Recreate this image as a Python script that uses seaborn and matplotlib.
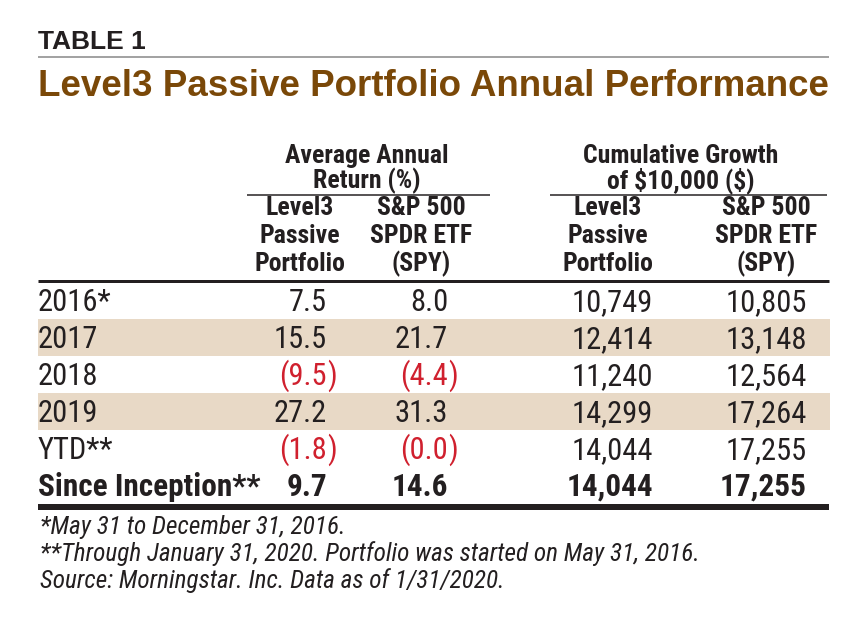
import numpy as np
import pandas as pd
import matplotlib
matplotlib.use("Agg")
import matplotlib.pyplot as plt
from matplotlib import font_manager as fm
import seaborn as sns

# table contents
row_labels = ["2016*", "2017", "2018", "2019", "YTD**", "Since Inception**"]
level3_return = [7.5, 15.5, -9.5, 27.2, -1.8, 9.7]
spy_return = [8.0, 21.7, -4.4, 31.3, -0.0, 14.6]
level3_growth = [10749, 12414, 11240, 14299, 14044, 14044]
spy_growth = [10805, 13148, 12564, 17264, 17255, 17255]

group_headers = [["Average Annual", "Return (%)"], ["Cumulative Growth", "of $10,000 ($)"]]
col_headers = [["Level3", "Passive", "Portfolio"], ["S&P 500", "SPDR ETF", "(SPY)"],
               ["Level3", "Passive", "Portfolio"], ["S&P 500", "SPDR ETF", "(SPY)"]]
footnotes = ["*May 31 to December 31, 2016.",
             "**Through January 31, 2020. Portfolio was started on May 31, 2016.",
             "Source: Morningstar. Inc. Data as of 1/31/2020."]

df = pd.DataFrame({"level3_ret": level3_return, "spy_ret": spy_return,
                   "level3_grw": level3_growth, "spy_grw": spy_growth}, index=row_labels)


def pick_narrow():
    # look for any condensed / narrow face that is installed
    prefer = ["Liberation Sans Narrow", "Roboto Condensed", "Roboto", "Noto Sans",
              "Open Sans", "DejaVu Sans"]
    found = []
    for f in fm.fontManager.ttflist:
        fn = f.fname.lower()
        if "condensed" in fn or "narrow" in fn or f.stretch not in ("normal", 500):
            found.append((f.name, f.stretch))
    for p in prefer:
        for name, st in found:
            if name == p:
                return name, st
    if found:
        return found[0]
    return "DejaVu Sans", "normal"


sns.set_theme(style="white")
narrow_name, narrow_stretch = pick_narrow()
narrow = [narrow_name, "DejaVu Sans"]
wide = ["Liberation Sans", "DejaVu Sans"]
plt.rcParams["font.family"] = narrow
plt.rcParams["font.stretch"] = narrow_stretch

INK = "#231f20"
RED = "#d0202e"
BROWN = "#7a4808"
SHADE = "#e8d9c6"

W, H = 866, 624
fig = plt.figure(figsize=(W / 100, H / 100), dpi=100)
ax = fig.add_axes([0, 0, 1, 1])
ax.set_xlim(0, W)
ax.set_ylim(H, 0)
ax.axis("off")

left, right = 38, 829
px = 72 / 100  # points per pixel

# header block
ax.text(left, 49, "TABLE 1", family=wide, stretch="normal", weight="bold", fontsize=19,
        color=INK, va="baseline")
ax.plot([left, right], [56.5, 56.5], color="#a3a3a3", lw=2 * px, solid_capstyle="butt")
ax.text(left, 96, "Level3 Passive Portfolio Annual Performance", family=wide, stretch="normal",
        weight="bold", fontsize=26.5, color=BROWN, va="baseline")

group_centers = [367, 681]
group_spans = [(247, 490), (550, 827)]
for lines, cx, (x0, x1) in zip(group_headers, group_centers, group_spans):
    for k, line in enumerate(lines):
        ax.text(cx, 163 + 25 * k, line, weight="bold", fontsize=18.5, color=INK,
                ha="center", va="baseline", parse_math=False)
    ax.plot([x0, x1], [194.5, 194.5], color=INK, lw=1.5 * px, solid_capstyle="butt")

col_centers = [300, 421, 608, 766]
col_right = [327, 448, 653, 807]
for lines, cx in zip(col_headers, col_centers):
    for k, line in enumerate(lines):
        ax.text(cx, 215 + 28 * k, line, weight="bold", fontsize=18.5, color=INK,
                ha="center", va="baseline")

ax.plot([left, right], [280.5, 280.5], color=INK, lw=3 * px, solid_capstyle="butt")

# body rows
row_top, row_h = 282, 37
for i, (label, row) in enumerate(df.iterrows()):
    y0 = row_top + row_h * i
    if i % 2 == 1 and i < 4:
        ax.axhspan(y0, y0 + row_h, xmin=left / W, xmax=(right + 1) / W, color=SHADE, lw=0)
    base = y0 + 29
    bold = label.startswith("Since")
    wt = "bold" if bold else "normal"
    fs = 22.5 if bold else 22
    ax.text(left, base, label, fontsize=fs, weight=wt, color=INK, va="baseline")
    cells = [row["level3_ret"], row["spy_ret"], row["level3_grw"], row["spy_grw"]]
    for j, v in enumerate(cells):
        x = col_right[j]
        txt = f"{abs(v):.1f}" if j < 2 else f"{int(v):,}"
        if np.signbit(v):
            ax.text(x, base, "(" + txt, fontsize=fs, weight=wt, color=RED, ha="right", va="baseline")
            ax.text(x, base, ")", fontsize=fs, weight=wt, color=RED, ha="left", va="baseline")
        else:
            ax.text(x, base, txt, fontsize=fs, weight=wt, color=INK, ha="right", va="baseline")

ax.plot([left, right], [506.5, 506.5], color=INK, lw=6 * px, solid_capstyle="butt")

for k, note in enumerate(footnotes):
    ax.text(40, 534 + 27 * k, note, style="italic", fontsize=18.2, color=INK, va="baseline")

fig.savefig("out.png", dpi=100, facecolor="white")
